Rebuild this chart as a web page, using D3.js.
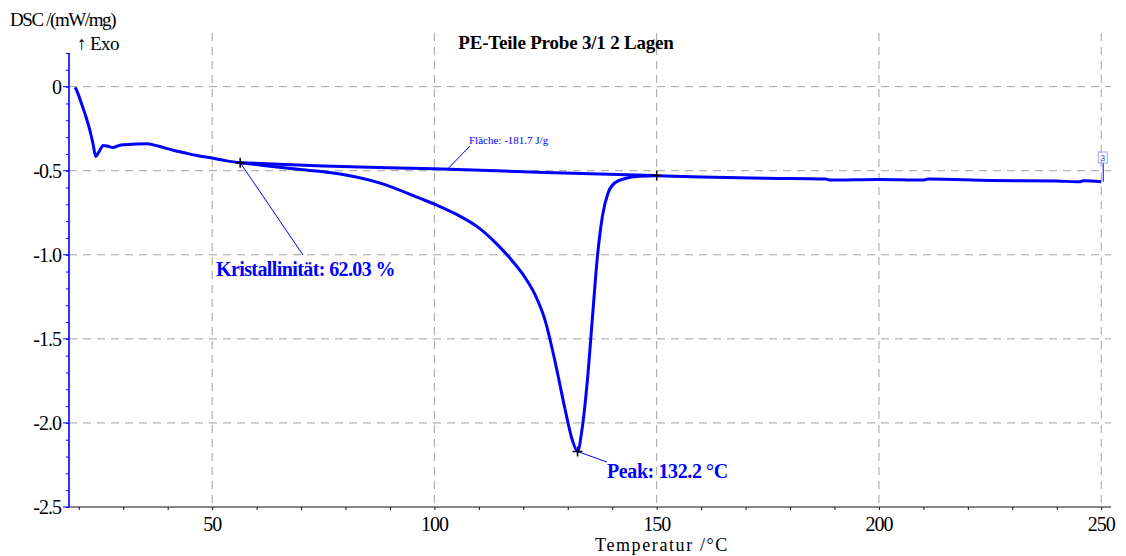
<!DOCTYPE html>
<html>
<head>
<meta charset="utf-8">
<script src="https://cdn.jsdelivr.net/npm/d3@7"></script>
<style>
  body { margin: 0; background: #fff; }
  text { font-family: "Liberation Serif", "Times New Roman", serif; }
</style>
</head>
<body>
<script>
// DSC curve up to the onset of the melt integration
const headTemp = [19.2, 19.8, 20.6, 21.5, 22.4, 23.2, 23.8, 24.5, 25.5, 26.6, 27.7, 28.8, 30, 32, 35.4, 38, 41.2, 44, 46.6, 50, 53, 56.3];
const headDsc = [-0.005, -0.04, -0.1, -0.17, -0.25, -0.34, -0.415, -0.39, -0.35, -0.355, -0.362, -0.352, -0.345, -0.343, -0.34, -0.355, -0.378, -0.395, -0.41, -0.425, -0.44, -0.452];

// melting peak
const peakTemp = [56.3, 62, 69.9, 78.8, 87.8, 96.8, 101, 105, 110, 114, 117, 120, 122.5, 124.9, 127.1, 129.4, 131, 132.2, 133.2, 134.4, 135.5, 136.6, 137.8, 139.1, 140.7, 142.9, 146.3, 150];
const peakDsc = [-0.452, -0.47, -0.493, -0.52, -0.574, -0.665, -0.71, -0.76, -0.84, -0.935, -1.02, -1.12, -1.23, -1.39, -1.63, -1.92, -2.1, -2.17, -2.04, -1.75, -1.39, -1.03, -0.77, -0.63, -0.57, -0.546, -0.533, -0.53];

// integration baseline
const baseTemp = [56.3, 75, 100, 125, 150];
const baseDsc = [-0.452, -0.472, -0.489, -0.51, -0.529];

// tail after the peak
const tailTemp = [150, 160, 175, 188, 189, 200, 210, 211, 225, 240, 245, 246, 250];
const tailDsc = [-0.53, -0.537, -0.545, -0.55, -0.556, -0.552, -0.556, -0.55, -0.558, -0.561, -0.566, -0.56, -0.565];

const xTicks = [50, 100, 150, 200, 250];
const yTicks = [0, -0.5, -1.0, -1.5, -2.0, -2.5];
const yTickLabels = ['0', '-0.5', '-1.0', '-1.5', '-2.0', '-2.5'];

const width = 1126;
const height = 556;
const plotLeft = 69;
const plotRight = 1111;
const plotTop = 53;
const plotBottom = 507;
const blue = '#0000ff';

const x = d3.scaleLinear().domain([17.8, 252.2]).range([plotLeft, plotRight]);
const y = d3.scaleLinear().domain([-2.5, 0.2]).range([plotBottom, plotTop]);

const svg = d3.select('body')
  .append('svg')
  .attr('width', width)
  .attr('height', height);

// Grid
svg.append('g')
  .selectAll('line')
  .data(xTicks)
  .enter()
  .append('line')
  .attr('x1', d => x(d))
  .attr('x2', d => x(d))
  .attr('y1', 33)
  .attr('y2', plotBottom)
  .attr('stroke', '#a0a0a0')
  .attr('stroke-dasharray', '8,6')

svg.append('g')
  .selectAll('line')
  .data(yTicks.slice(0, 5))
  .enter()
  .append('line')
  .attr('x1', plotLeft)
  .attr('x2', plotRight)
  .attr('y1', d => y(d))
  .attr('y2', d => y(d))
  .attr('stroke', '#a0a0a0')
  .attr('stroke-dasharray', '8,6')

// X axis
const xAxis = d3.axisBottom(x)
  .tickValues(d3.range(20, 251, 10))
  .tickSize(3)
  .tickFormat('')

svg.append('g')
  .attr('transform', `translate(0, ${plotBottom})`)
  .call(xAxis)
  .call(g => g.select('.domain').attr('d', `M${plotLeft},0H${plotRight}`).attr('stroke', '#111'))
  .call(g => g.selectAll('.tick line').attr('stroke', '#111'))

svg.append('g')
  .selectAll('text')
  .data(xTicks)
  .enter()
  .append('text')
  .attr('x', d => x(d))
  .attr('y', 531)
  .attr('text-anchor', 'middle')
  .style('font-size', '20px')
  .style('letter-spacing', '-1px')
  .text(d => d)

// Y axis
const yAxis = d3.axisLeft(y)
  .tickValues(d3.range(-25, 3).map(d => d / 10))
  .tickSize(3)
  .tickFormat('')

svg.append('g')
  .attr('transform', `translate(${plotLeft}, 0)`)
  .call(yAxis)
  .call(g => g.select('.domain').attr('d', `M0,${plotTop}V${plotBottom}`).attr('stroke', blue).attr('stroke-width', 1.6))
  .call(g => g.selectAll('.tick line').attr('stroke', blue).attr('x1', 0).attr('x2', -3))

svg.append('g')
  .selectAll('line')
  .data(yTicks)
  .enter()
  .append('line')
  .attr('x1', plotLeft - 6)
  .attr('x2', plotLeft)
  .attr('y1', d => y(d))
  .attr('y2', d => y(d))
  .attr('stroke', blue)

svg.append('g')
  .selectAll('text')
  .data(yTicks)
  .enter()
  .append('text')
  .attr('x', 61)
  .attr('y', d => y(d) + 7)
  .attr('text-anchor', 'end')
  .style('font-size', '20px')
  .style('letter-spacing', '-1px')
  .text((d, i) => yTickLabels[i])

// Labels
svg.append('text')
  .attr('x', 10)
  .attr('y', 26)
  .style('font-size', '19px')
  .style('letter-spacing', '-1.4px')
  .text('DSC /(mW/mg)')

svg.append('text')
  .attr('x', 77)
  .attr('y', 50)
  .style('font-size', '19px')
  .style('letter-spacing', '-0.6px')
  .text('↑ Exo')

svg.append('text')
  .attr('x', 566)
  .attr('y', 49)
  .attr('text-anchor', 'middle')
  .style('font-size', '19px')
  .style('font-weight', 700)
  .style('letter-spacing', '-0.2px')
  .text('PE-Teile Probe 3/1 2 Lagen')

svg.append('text')
  .attr('x', 662)
  .attr('y', 551)
  .attr('text-anchor', 'middle')
  .style('font-size', '18px')
  .style('letter-spacing', '1.6px')
  .text('Temperatur /°C')

// Curves
const line = d3.line()
  .x(d => x(d[0]))
  .y(d => y(d[1]))
  .curve(d3.curveMonotoneX)

const curves = [
  [headTemp, headDsc],
  [peakTemp, peakDsc],
  [baseTemp, baseDsc],
  [tailTemp, tailDsc]
]

svg.append('g')
  .selectAll('path')
  .data(curves.map(c => c[0].map((t, i) => [t, c[1][i]])))
  .enter()
  .append('path')
  .attr('d', line)
  .attr('fill', 'none')
  .attr('stroke', blue)
  .attr('stroke-width', 3)
  .attr('stroke-linejoin', 'round')

// Annotations
const onset = [56.3, -0.452];
const peak = [132.2, -2.17];
const end = [150, -0.529];

svg.append('line')
  .attr('x1', x(onset[0])).attr('y1', y(onset[1]))
  .attr('x2', 303).attr('y2', 255)
  .attr('stroke', blue)

svg.append('line')
  .attr('x1', x(peak[0])).attr('y1', y(peak[1]))
  .attr('x2', 607).attr('y2', 462)
  .attr('stroke', blue)

svg.append('line')
  .attr('x1', x(103)).attr('y1', y(-0.489))
  .attr('x2', 470).attr('y2', 146)
  .attr('stroke', blue)

const last = [tailTemp[tailTemp.length - 1], tailDsc[tailDsc.length - 1]];
svg.append('line')
  .attr('x1', x(last[0]) + 2).attr('y1', y(last[1]))
  .attr('x2', x(last[0]) + 2).attr('y2', 163)
  .attr('stroke', blue)

svg.append('rect')
  .attr('x', x(last[0]) - 3).attr('y', 152)
  .attr('width', 9).attr('height', 11)
  .attr('fill', 'none')
  .attr('stroke', '#8888ff')
  .attr('stroke-width', 0.8)

svg.append('text')
  .attr('x', x(last[0]) + 1.5).attr('y', 161)
  .attr('text-anchor', 'middle')
  .attr('fill', blue)
  .style('font-size', '9px')
  .text('3')

svg.append('g')
  .selectAll('path')
  .data([onset, peak, end])
  .enter()
  .append('path')
  .attr('d', d => `M${x(d[0]) - 5},${y(d[1])}H${x(d[0]) + 5}M${x(d[0])},${y(d[1]) - 5}V${y(d[1]) + 5}`)
  .attr('stroke', '#000')
  .attr('stroke-width', 1.5)

svg.append('text')
  .attr('x', 216).attr('y', 276)
  .attr('fill', blue)
  .style('font-size', '20px')
  .style('font-weight', 700)
  .style('letter-spacing', '-0.6px')
  .text('Kristallinität: 62.03 %')

svg.append('text')
  .attr('x', 607).attr('y', 478)
  .attr('fill', blue)
  .style('font-size', '20px')
  .style('font-weight', 700)
  .style('letter-spacing', '-0.4px')
  .text('Peak: 132.2 °C')

svg.append('text')
  .attr('x', 469).attr('y', 144)
  .attr('fill', blue)
  .style('font-size', '11px')
  .style('letter-spacing', '0px')
  .text('Fläche: -181.7 J/g')
</script>
</body>
</html>
